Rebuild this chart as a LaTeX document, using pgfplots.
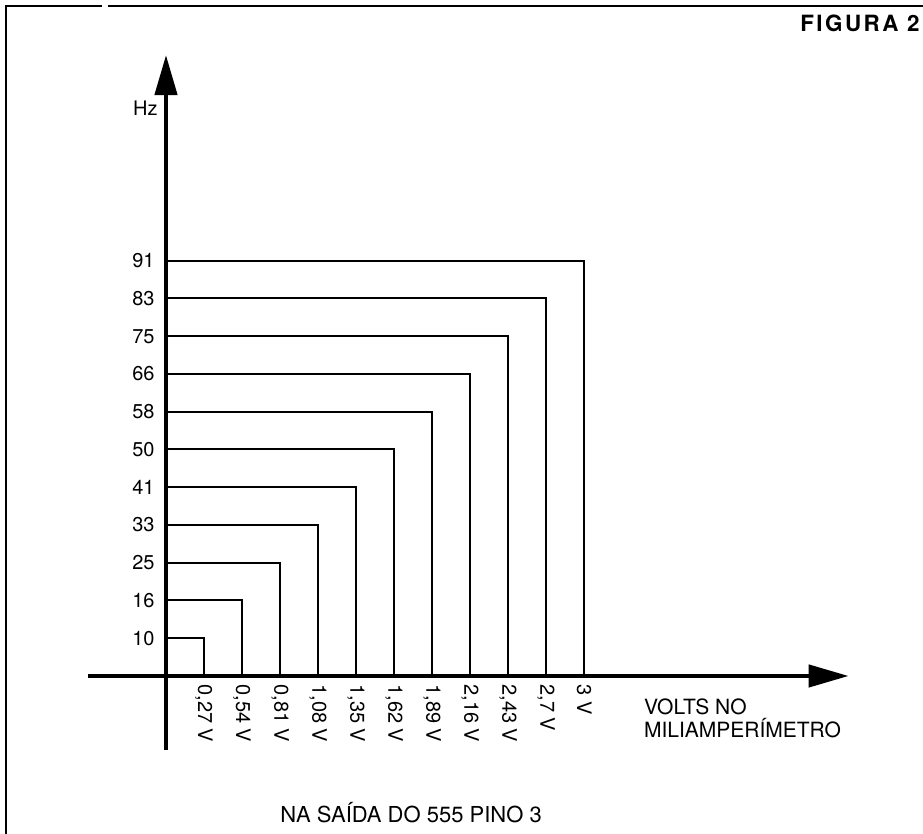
\documentclass[border=0pt]{standalone}
\usepackage{fontspec}
\setmainfont{TeX Gyre Heros}
\usepackage{pgfplots}
\pgfplotsset{compat=1.18}
\usetikzlibrary{arrows.meta}
\newcommand{\lbl}{\fontsize{10}{11}\selectfont}
\begin{document}
\begin{tikzpicture}
\begin{axis}[
  at={(83pt,79pt)}, anchor=origin,
  x=19.015pt, y=18.875pt,
  xmin=-2.05, xmax=17.95, ymin=-1.96, ymax=16.45,
  axis lines=middle,
  axis line style={line width=2.2pt, -{Triangle[length=20pt,width=11pt]}},
  clip=false,
  xtick={1,...,11}, ytick={1,...,11},
  xticklabels={{0,27 V},{0,54 V},{0,81 V},{1,08 V},{1,35 V},{1,62 V},{1,89 V},{2,16 V},{2,43 V},{2,7 V},{3 V}},
  yticklabels={10,16,25,33,41,50,58,66,75,83,91},
  major tick length=0pt,
  xticklabel style={yshift=-4pt, rotate=-90, anchor=west, inner sep=0pt, font=\lbl},
  yticklabel style={anchor=east, inner sep=0pt, xshift=-5.5pt, font=\lbl},
]
\addplot[black, line width=1pt] coordinates {(0,1) (1,1) (1,0)};
\addplot[black, line width=1pt] coordinates {(0,2) (2,2) (2,0)};
\addplot[black, line width=1pt] coordinates {(0,3) (3,3) (3,0)};
\addplot[black, line width=1pt] coordinates {(0,4) (4,4) (4,0)};
\addplot[black, line width=1pt] coordinates {(0,5) (5,5) (5,0)};
\addplot[black, line width=1pt] coordinates {(0,6) (6,6) (6,0)};
\addplot[black, line width=1pt] coordinates {(0,7) (7,7) (7,0)};
\addplot[black, line width=1pt] coordinates {(0,8) (8,8) (8,0)};
\addplot[black, line width=1pt] coordinates {(0,9) (9,9) (9,0)};
\addplot[black, line width=1pt] coordinates {(0,10) (10,10) (10,0)};
\addplot[black, line width=1pt] coordinates {(0,11) (11,11) (11,0)};
\node[anchor=east, inner sep=0pt, xshift=-4pt, font=\lbl] at (axis cs:0,15.05) {Hz};
\node[anchor=north west, inner sep=0pt, align=left, font=\fontsize{10.5}{11.2}\selectfont] at (axis cs:12.56,-0.6) {VOLTS NO\\MILIAMPERÍMETRO};
\node[anchor=north west, inner sep=0pt, font=\fontsize{11}{12}\selectfont] at (axis cs:3.0,-3.34) {NA SAÍDA DO 555 PINO 3};
\end{axis}
\pgfresetboundingbox
\path[use as bounding box] (0,0) rectangle (461.5pt,417pt);
\draw[line width=1pt] (3pt,0) -- (3pt,414pt) -- (51pt,414pt);
\draw[line width=1pt] (54pt,414pt) -- (461.5pt,414pt);
\node[anchor=east, inner sep=0pt, font=\fontsize{11.2}{12}\selectfont\bfseries\addfontfeatures{LetterSpace=11}] at (460pt,405.5pt) {FIGURA 2};
\end{tikzpicture}
\end{document}
